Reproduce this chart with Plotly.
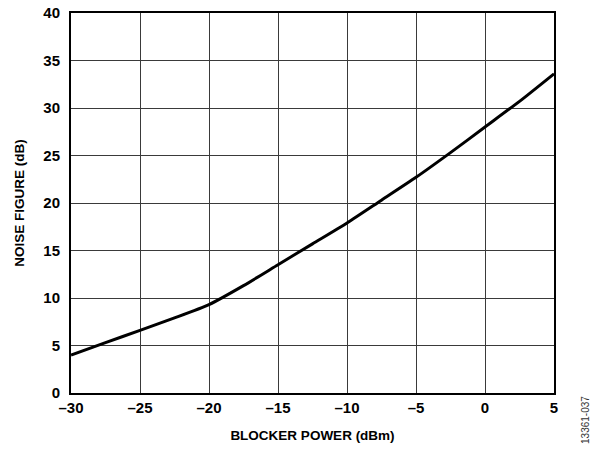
import plotly.graph_objects as go

# blocker power sweep (dBm) and the noise figure (dB)
blocker_dbm = [-30, -27.5, -25, -22.5, -20, -17.5, -15, -12.5, -10, -7.5, -5, -2.5, 0, 2.5, 5]
noise_fig_db = [4.0, 5.3, 6.6, 7.9, 9.3, 11.3, 13.5, 15.7, 17.9, 20.3, 22.7, 25.3, 28.0, 30.7, 33.6]

x_ticks = [-30, -25, -20, -15, -10, -5, 0, 5]
x_tick_text = ["–30", "–25", "–20", "–15", "–10", "–5", "0", "5"]
y_ticks = [0, 5, 10, 15, 20, 25, 30, 35, 40]

FONT = "Liberation Sans, Arial, sans-serif"

fig = go.Figure()
fig.add_trace(
    go.Scatter(
        x=blocker_dbm,
        y=noise_fig_db,
        mode="lines",
        line=dict(color="black", width=3, shape="spline", smoothing=0.6),
        showlegend=False,
    )
)

fig.update_xaxes(
    range=[-30, 5],
    tickvals=x_ticks,
    ticktext=x_tick_text,
    showgrid=True,
    gridcolor="#3a3a3a",
    gridwidth=1,
    showline=True,
    linecolor="black",
    linewidth=2,
    mirror=True,
    ticks="",
    zeroline=False,
    automargin=False,
    tickfont=dict(family=FONT, size=15, color="black", weight="bold"),
    title=dict(
        text="BLOCKER POWER (dBm)",
        font=dict(family=FONT, size=13.5, color="black", weight="bold"),
        standoff=16,
    ),
)
fig.update_yaxes(
    range=[0, 40],
    tickvals=y_ticks,
    showgrid=True,
    gridcolor="#3a3a3a",
    gridwidth=1,
    showline=True,
    linecolor="black",
    linewidth=2,
    mirror=True,
    ticks="",
    zeroline=False,
    automargin=False,
    ticklabelstandoff=6,
    tickfont=dict(family=FONT, size=15, color="black", weight="bold"),
    title=dict(
        text="NOISE FIGURE (dB)",
        font=dict(family=FONT, size=13.5, color="black", weight="bold"),
        standoff=16,
    ),
)

fig.add_annotation(
    text="13361-037",
    xref="paper",
    yref="paper",
    x=1.065,
    y=-0.07,
    xanchor="center",
    yanchor="middle",
    textangle=-90,
    showarrow=False,
    font=dict(family=FONT, size=10, color="#333333"),
)

fig.update_layout(
    width=598,
    height=452,
    margin=dict(l=71, r=44, t=13, b=59),
    plot_bgcolor="white",
    paper_bgcolor="white",
)

# drop the default page margin so the figure sits at the window's corner
fig.write_html(
    "out.html",
    config={"displayModeBar": False},
    post_script="document.body.style.margin='0';document.body.style.overflow='hidden';",
)
